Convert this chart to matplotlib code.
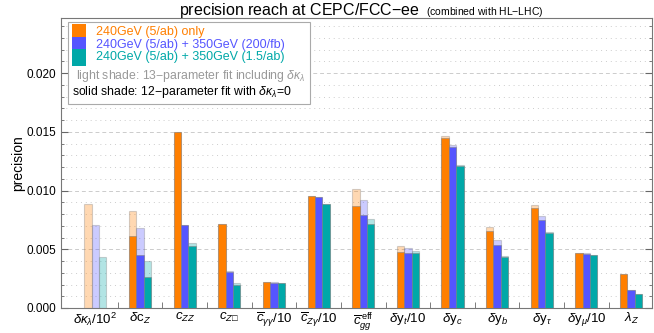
import matplotlib
matplotlib.use('Agg')
import matplotlib.pyplot as plt
import numpy as np
from matplotlib.offsetbox import (AnchoredOffsetbox, DrawingArea, HPacker,
                                  TextArea, VPacker)
from matplotlib.patches import Rectangle

plt.rcParams['font.family'] = ['Liberation Sans', 'DejaVu Sans']
plt.rcParams['mathtext.fontset'] = 'custom'
plt.rcParams['mathtext.rm'] = 'Liberation Sans'
plt.rcParams['mathtext.it'] = 'Liberation Sans:italic'
plt.rcParams['mathtext.bf'] = 'Liberation Sans:bold'

labels = [r'$\delta\kappa_\lambda/10^2$', r'$\delta\mathrm{c}_Z$', r'$c_{ZZ}$',
          '$c_{Z\u25a1}$', r'$\overline{c}_{\gamma\gamma}/10$',
          r'$\overline{c}_{Z\gamma}/10$', r'$\overline{c}_{gg}^{\,\mathrm{eff}}$',
          r'$\delta\mathrm{y}_t/10$', r'$\delta\mathrm{y}_c$', r'$\delta\mathrm{y}_b$',
          r'$\delta\mathrm{y}_\tau$', r'$\delta\mathrm{y}_\mu/10$', r'$\lambda_Z$']

# 13-parameter fit (light shade)
light_240 = [0.0089, 0.00825, 0.01502, 0.00714, 0.00220, 0.00955, 0.0101,
             0.00525, 0.01464, 0.00687, 0.00874, 0.00467, 0.00290]
light_350a = [0.00704, 0.00678, 0.00710, 0.00313, 0.00218, 0.00946, 0.00916,
              0.00508, 0.0139, 0.00579, 0.0078, 0.00465, 0.00155]
light_350b = [0.00434, 0.00397, 0.00553, 0.0021, 0.00212, 0.00890, 0.00755,
              0.00485, 0.01216, 0.00443, 0.00644, 0.00453, 0.00118]

# 12-parameter fit with dk_lambda = 0 (solid shade)
solid_240 = [0.0, 0.00613, 0.01498, 0.00712, 0.00219, 0.00953, 0.00871,
             0.00474, 0.01447, 0.00655, 0.00848, 0.00465, 0.00289]
solid_350a = [0.0, 0.00451, 0.00704, 0.00309, 0.00217, 0.00942, 0.00794,
              0.00471, 0.0137, 0.00536, 0.00749, 0.00463, 0.00153]
solid_350b = [0.0, 0.00267, 0.00528, 0.00193, 0.0021, 0.00885, 0.00715,
              0.0047, 0.01211, 0.00434, 0.00635, 0.00451, 0.00116]

series_names = ['240GeV (5/ab) only', '240GeV (5/ab) + 350GeV (200/fb)',
                '240GeV (5/ab) + 350GeV (1.5/ab)']
colors = ['#FF7F00', '#5555FF', '#00A8A8']

fig = plt.figure(figsize=(6.54, 3.33), dpi=100)
ax = fig.add_axes([61 / 654, 1 - 308 / 333, 591 / 654, 290 / 333])

x = np.arange(len(labels))
w = 0.165
lights = [light_240, light_350a, light_350b]
solids = [solid_240, solid_350a, solid_350b]
for k in range(3):
    xs = x + (k - 1) * w
    ax.bar(xs, lights[k], w, color=colors[k], alpha=0.3,
           edgecolor=(0.45, 0.45, 0.45), linewidth=0.8, zorder=3)
    ax.bar(xs, solids[k], w, color=colors[k],
           edgecolor=(0.5, 0.5, 0.5, 0.6), linewidth=0.6, zorder=4)

ax.set_xlim(-0.77, 12.47)
ax.set_ylim(0, 0.0247)
ax.set_xticks(x)
ax.set_xticklabels(labels, fontsize=9.5)
ax.set_xticks(x[:-1] + 0.5, minor=True)
ax.tick_params(axis='x', which='major', length=0, pad=2)
ax.tick_params(axis='x', which='minor', direction='in', length=4,
               color='#666666', top=False)
ax.set_yticks(np.arange(0, 0.0201, 0.005))
ax.set_yticks(np.arange(0, 0.0247, 0.001), minor=True)
ax.yaxis.set_major_formatter(matplotlib.ticker.FormatStrFormatter('%.3f'))
ax.tick_params(axis='y', which='both', direction='in', right=True,
               labelsize=8.5, color='#666666')
ax.tick_params(axis='y', which='major', length=5)
ax.tick_params(axis='y', which='minor', length=2.5)
ax.grid(axis='y', which='major', color='#cccccc', linestyle=(0, (4, 3)),
        linewidth=0.7, zorder=0)
ax.grid(axis='y', which='minor', color='#cccccc', linestyle=(0, (1, 4)),
        linewidth=0.7, zorder=0)
for s in ax.spines.values():
    s.set_color('#777777')
    s.set_linewidth(0.8)
ax.set_ylabel('precision', fontsize=10, labelpad=1)

# legend
rows = []
for name, c in zip(series_names, colors):
    da = DrawingArea(10, 9, 0, 0)
    da.add_artist(Rectangle((0, -2), 10, 12.5, facecolor=c, edgecolor='none'))
    ta = TextArea(name, textprops=dict(color=c, fontsize=9))
    rows.append(HPacker(children=[da, ta], align='center', pad=0, sep=7))
top_block = VPacker(children=rows, align='left', pad=0, sep=0)
note1 = TextArea(r'light shade: 13$-$parameter fit including $\delta\kappa_\lambda$',
                 textprops=dict(color='#999999', fontsize=8.8))
note2 = TextArea(r'solid shade: 12$-$parameter fit with $\delta\kappa_\lambda$=0',
                 textprops=dict(color='black', fontsize=8.8))
note1_row = HPacker(children=[DrawingArea(3, 1, 0, 0), note1], pad=0, sep=0)
bottom_block = VPacker(children=[note1_row, note2], align='left', pad=0, sep=0)
box = VPacker(children=[top_block, bottom_block], align='left', pad=0, sep=3)
anchored = AnchoredOffsetbox(loc='upper left', child=box, pad=0.3,
                             borderpad=0, frameon=True,
                             bbox_to_anchor=(7 / 591, 1 - 4 / 290),
                             bbox_transform=ax.transAxes)
anchored.patch.set_edgecolor('#aaaaaa')
anchored.patch.set_linewidth(0.8)
anchored.zorder = 6
ax.add_artist(anchored)

fig.text(420 / 654, 1 - 15 / 333, 'precision reach at CEPC/FCC$-$ee',
         ha='right', va='baseline', fontsize=11.5)
fig.text(426 / 654, 1 - 15 / 333, '(combined with HL$-$LHC)',
         ha='left', va='baseline', fontsize=7.5)

fig.savefig('out.png', dpi=100)
